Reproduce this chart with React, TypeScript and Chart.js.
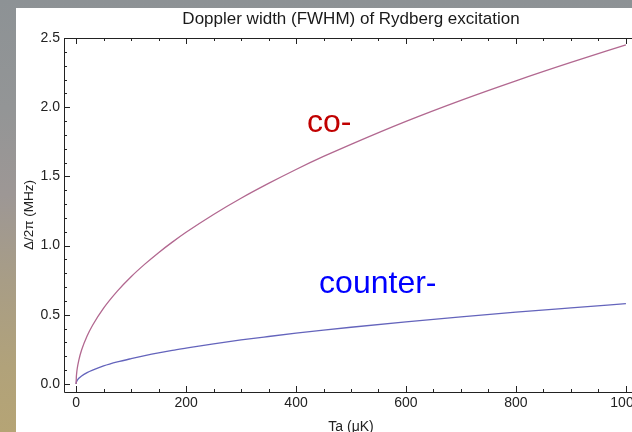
import React, { useEffect, useRef } from "react";
import { Chart, registerables } from "chart.js";

Chart.register(...registerables);

const FONT = "'Liberation Sans', Arial, sans-serif";

// Data
const temperatures = [0, 0.5, 1, 2, 5, 10, 20, 30, 50, 75, 100, 125, 150, 175, 200, 250, 300, 350, 400, 450, 500, 600, 700, 800, 900, 1000];
const coWidth = [0, 0.055, 0.077, 0.11, 0.173, 0.245, 0.346, 0.424, 0.548, 0.671, 0.775, 0.866, 0.949, 1.025, 1.096, 1.225, 1.342, 1.449, 1.55, 1.644, 1.732, 1.898, 2.05, 2.191, 2.324, 2.45];
const counterWidth = [0, 0.013, 0.018, 0.026, 0.041, 0.058, 0.082, 0.1, 0.13, 0.159, 0.183, 0.205, 0.225, 0.243, 0.259, 0.29, 0.318, 0.343, 0.367, 0.389, 0.41, 0.449, 0.485, 0.519, 0.55, 0.58];

const xTickValues = [0, 200, 400, 600, 800, 1000];
const yTickValues = [0, 0.5, 1.0, 1.5, 2.0, 2.5];
const xMinorTicks = [50, 100, 150, 250, 300, 350, 450, 500, 550, 650, 700, 750, 850, 900, 950];
const yMinorTicks = [0.1, 0.2, 0.3, 0.4, 0.6, 0.7, 0.8, 0.9, 1.1, 1.2, 1.3, 1.4, 1.6, 1.7, 1.8, 1.9, 2.1, 2.2, 2.3, 2.4];

const titleText = "Doppler width (FWHM) of Rydberg excitation";
const xTitle = "Ta (\u03BCK)";
const yTitle = "\u0394/2\u03C0 (MHz)";

const annotationLabels = ["co-", "counter-"];
const annotationX = [420, 442];
const annotationY = [1.82, 0.657];
const annotationColors = ["#c00000", "#0000ff"];

const coColor = "#b26890";
const counterColor = "#6464bc";

const decorPlugin = {
  id: "decor",
  afterDatasetsDraw(chart: any) {
    const ctx = chart.ctx;
    const xs = chart.scales.x;
    const ys = chart.scales.y;
    ctx.save();
    ctx.font = `32px ${FONT}`;
    ctx.textAlign = "left";
    ctx.textBaseline = "alphabetic";
    annotationLabels.forEach((t, i) => {
      ctx.fillStyle = annotationColors[i];
      ctx.fillText(t, xs.getPixelForValue(annotationX[i]), ys.getPixelForValue(annotationY[i]));
    });
    ctx.restore();
  },
  afterDraw(chart: any) {
    const ctx = chart.ctx;
    const a = chart.chartArea;
    const xs = chart.scales.x;
    const ys = chart.scales.y;
    ctx.save();
    ctx.strokeStyle = "#222";
    ctx.lineWidth = 1;
    ctx.beginPath();
    // frame
    ctx.moveTo(a.left + 0.5, a.top + 0.5);
    ctx.lineTo(a.left + 0.5, a.bottom + 0.5);
    ctx.lineTo(a.right + 0.5, a.bottom + 0.5);
    ctx.lineTo(a.right + 0.5, a.top + 0.5);
    ctx.closePath();
    const xt = (v: number, len: number) => {
      const px = Math.round(xs.getPixelForValue(v)) + 0.5;
      ctx.moveTo(px, a.bottom);
      ctx.lineTo(px, a.bottom - len);
      ctx.moveTo(px, a.top);
      ctx.lineTo(px, a.top + len);
    };
    const yt = (v: number, len: number) => {
      const py = Math.round(ys.getPixelForValue(v)) + 0.5;
      ctx.moveTo(a.left, py);
      ctx.lineTo(a.left + len, py);
    };
    xTickValues.forEach((v) => xt(v, 6));
    xMinorTicks.forEach((v) => xt(v, 3));
    yTickValues.forEach((v) => yt(v, 6));
    yMinorTicks.forEach((v) => yt(v, 3));
    ctx.stroke();

    // title
    const cx = (a.left + a.right) / 2;
    ctx.fillStyle = "#1a1a1a";
    ctx.font = `17px ${FONT}`;
    ctx.textAlign = "center";
    ctx.textBaseline = "alphabetic";
    ctx.fillText(titleText, cx, 16);

    // axis titles
    ctx.font = `14px ${FONT}`;
    ctx.fillStyle = "#222";
    ctx.textBaseline = "middle";
    ctx.fillText(xTitle, cx, 419);
    ctx.font = `13.5px ${FONT}`;
    ctx.translate(13, (a.top + a.bottom) / 2);
    ctx.rotate(-Math.PI / 2);
    ctx.fillText(yTitle, 0, 0);
    ctx.restore();
  },
};

export default function App() {
  const ref = useRef<HTMLCanvasElement | null>(null);

  useEffect(() => {
    if (!ref.current) return;
    document.body.style.overflow = "hidden";
    const chart = new Chart(ref.current, {
      type: "line",
      data: {
        datasets: [
          {
            label: "co-",
            data: temperatures.map((t, i) => ({ x: t, y: coWidth[i] })),
            borderColor: coColor,
            borderWidth: 1.3,
            pointRadius: 0,
            cubicInterpolationMode: "monotone",
            fill: false,
          },
          {
            label: "counter-",
            data: temperatures.map((t, i) => ({ x: t, y: counterWidth[i] })),
            borderColor: counterColor,
            borderWidth: 1.3,
            pointRadius: 0,
            cubicInterpolationMode: "monotone",
            fill: false,
          },
        ],
      },
      options: {
        animation: false,
        responsive: false,
        maintainAspectRatio: false,
        layout: { padding: { top: 30, right: 38, left: 0, bottom: 0 } },
        plugins: {
          legend: { display: false },
          title: { display: false },
          tooltip: { enabled: false },
        },
        scales: {
          x: {
            type: "linear",
            min: -22,
            max: 1022,
            grid: { display: false, drawTicks: false },
            border: { display: false },
            afterBuildTicks: (s: any) => {
              s.ticks = xTickValues.map((v) => ({ value: v }));
            },
            afterFit: (s: any) => {
              s.height = 40;
            },
            ticks: {
              font: { family: FONT, size: 14 },
              color: "#222",
              padding: 3,
              maxRotation: 0,
              autoSkip: false,
              callback: (v: any) => String(v),
            },
          },
          y: {
            type: "linear",
            min: -0.058,
            max: 2.5,
            grid: { display: false, drawTicks: false },
            border: { display: false },
            afterBuildTicks: (s: any) => {
              s.ticks = yTickValues.map((v) => ({ value: v }));
            },
            afterFit: (s: any) => {
              s.width = 48;
            },
            ticks: {
              font: { family: FONT, size: 14 },
              color: "#222",
              padding: 4,
              autoSkip: false,
              callback: (v: any) => Number(v).toFixed(1),
            },
          },
        },
      },
      plugins: [decorPlugin],
    } as any);
    return () => chart.destroy();
  }, []);

  return (
    <>
      <div
        style={{
          position: "fixed",
          left: 0,
          top: 0,
          width: 632,
          height: 432,
          background:
            "linear-gradient(to bottom, #8d9295 0%, #939596 25%, #9d9795 45%, #a89d86 65%, #b1a27a 85%, #b5a475 100%)",
        }}
      />
      <div
        style={{
          position: "fixed",
          left: 16,
          top: 8,
          width: 660,
          height: 424,
          background: "#ffffff",
        }}
      >
        <canvas ref={ref} width={660} height={424} style={{ display: "block", width: 660, height: 424 }} />
      </div>
    </>
  );
}
